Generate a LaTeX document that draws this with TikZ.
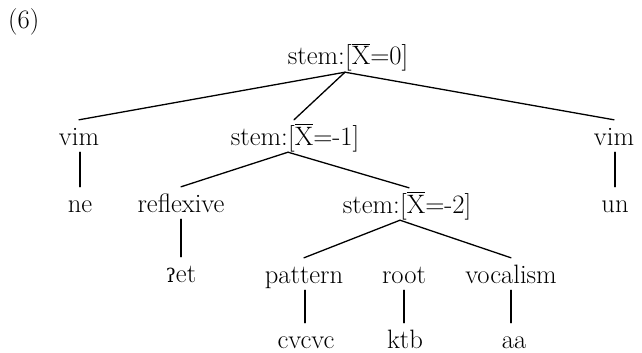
\documentclass[tikz,border=0pt]{standalone}
\usepackage{fontspec}
\newfontfamily\ipafont{DejaVu Serif}
\newcommand{\xbarX}{\vbox{\hrule height 1pt\kern 1.6pt\hbox{X}}}
\tikzset{
  lab/.style={inner xsep=0pt, inner ysep=7pt, text height=18pt, text depth=0pt, anchor=base},
  stemhead/.style={inner xsep=0pt, inner ysep=7pt, text height=18pt, text depth=0pt, anchor=base east},
  stemfeat/.style={inner xsep=0pt, inner ysep=7pt, text height=18pt, text depth=0pt, anchor=base west},
  edge/.style={line width=1.3pt, line cap=round}
}
\begin{document}
\begin{tikzpicture}[x=1pt, y=-1pt, font=\fontsize{26.6}{32}\selectfont]
\useasboundingbox (0,0) rectangle (642,353);
% label
\node[inner sep=0pt, anchor=base west] (num) at (8,29) {(6)};
% stem nodes
\node[stemhead] (s0h) at (345,65) {stem:};
\node[stemfeat] (s0) at (345,65) {[\xbarX=0]};
\node[stemhead] (s1h) at (288,145) {stem:};
\node[stemfeat] (s1) at (288,145) {[\xbarX=-1]};
\node[stemhead] (s2h) at (400,213) {stem:};
\node[stemfeat] (s2) at (400,213) {[\xbarX=-2]};
% leaves and labels
\node[lab] (vimL) at (79,145) {vim};
\node[lab] (ne) at (80,212) {ne};
\node[lab] (vimR) at (614,145) {vim};
\node[lab] (un) at (615,212) {un};
\node[lab] (refl) at (181,212) {reflexive};
\node[lab] (et) at (181,282) {{\ipafont\fontsize{19}{20}\selectfont ʔ}et};
\node[lab] (pat) at (304,283) {pattern};
\node[lab] (root) at (404,283) {root};
\node[lab] (voc) at (511,283) {vocalism};
\node[lab] (cv) at (306,348) {cvcvc};
\node[lab] (ktb) at (405,348) {ktb};
\node[lab] (aa) at (514,348) {aa};
% connectors
\draw[edge] (s0.south west) -- (vimL.north);
\draw[edge] (s0.south west) -- ([xshift=6pt]s1.north west);
\draw[edge] (s0.south west) -- (vimR.north);
\draw[edge] ([xshift=1pt]vimL.south) -- ([xshift=1pt]vimL.south |- ne.north);
\draw[edge] ([xshift=1pt]vimR.south) -- ([xshift=1pt]vimR.south |- un.north);
\draw[edge] (s1.south west) -- (refl.north);
\draw[edge] (s1.south west) -- ([xshift=9pt]s2.north west);
\draw[edge] (refl.south) -- (refl.south |- et.north);
\draw[edge] (s2.south west) -- (pat.north);
\draw[edge] (s2.south west) -- (voc.north);
\draw[edge] ([xshift=1pt]pat.south) -- ([xshift=1pt]pat.south |- cv.north);
\draw[edge] (root.south) -- (root.south |- ktb.north);
\draw[edge] (voc.south) -- (voc.south |- aa.north);
\end{tikzpicture}
\end{document}
